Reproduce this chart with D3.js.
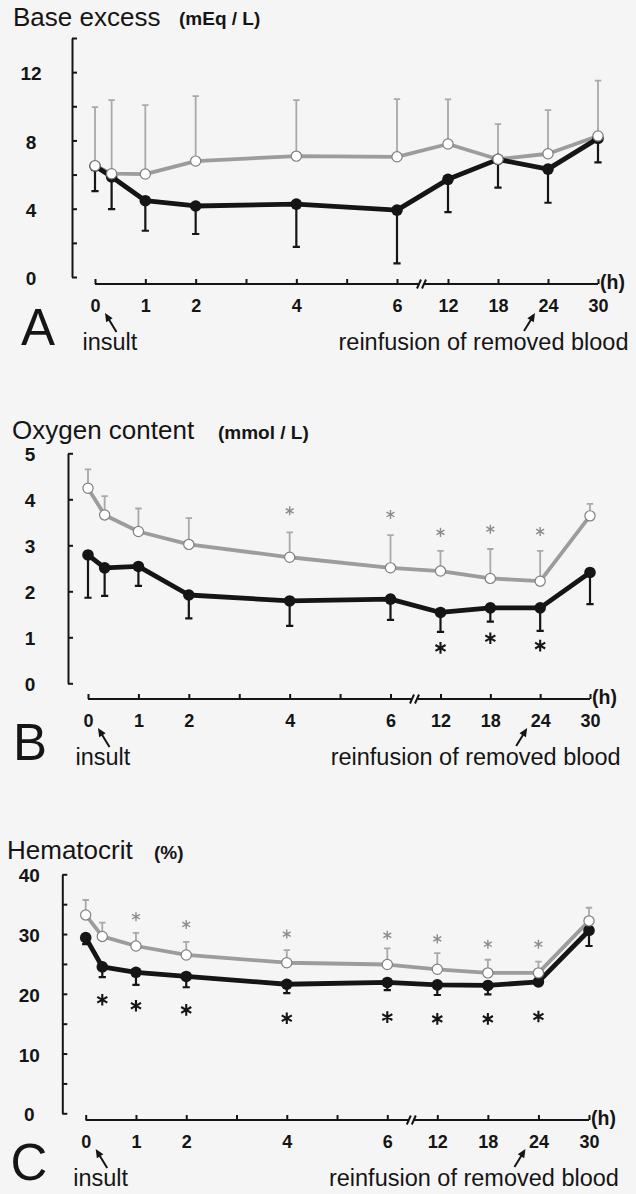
<!DOCTYPE html>
<html><head><meta charset="utf-8">
<script src="https://cdn.jsdelivr.net/npm/d3@7"></script>
<style>body{margin:0;background:#f5f5f5} svg{display:block}</style>
</head><body>
<svg id="chart" width="636" height="1194"></svg>
<script>
// ---------- shared data ----------
const times = [0, 0.33, 1, 2, 4, 6, 12, 18, 24, 30];
const xTickValues = [0, 1, 2, 3, 4, 5, 6, 12, 18, 24, 30];
const xTickLabels = ["0", "1", "2", "", "4", "", "6", "12", "18", "24", "30"];

// ---------- A: Base excess ----------
const beYTicks = [0, 2, 4, 6, 8, 10, 12, 14];
const beYLabels = ["0", "", "4", "", "8", "", "12", ""];
const beGray = [6.52, 6.05, 6.03, 6.79, 7.08, 7.04, 7.79, 6.90, 7.22, 8.26];
const beGraySD = [3.43, 4.31, 4.04, 3.81, 3.28, 3.38, 2.61, 2.06, 2.56, 3.24];
const beBlack = [6.50, 5.87, 4.47, 4.16, 4.27, 3.92, 5.72, 6.89, 6.32, 8.12];
const beBlackSD = [1.47, 1.89, 1.76, 1.64, 2.50, 3.12, 1.92, 1.66, 1.97, 1.41];
const beGrayStar = [null, null, null, null, null, null, null, null, null, null];
const beBlackStar = [null, null, null, null, null, null, null, null, null, null];

// ---------- B: Oxygen content ----------
const o2YTicks = [0, 1, 2, 3, 4, 5];
const o2YLabels = ["0", "1", "2", "3", "4", "5"];
const o2Gray = [4.24, 3.66, 3.30, 3.02, 2.74, 2.51, 2.44, 2.28, 2.22, 3.64];
const o2GraySD = [0.41, 0.41, 0.50, 0.57, 0.54, 0.71, 0.44, 0.64, 0.66, 0.26];
const o2Black = [2.79, 2.51, 2.54, 1.92, 1.79, 1.83, 1.54, 1.64, 1.64, 2.41];
const o2BlackSD = [0.93, 0.61, 0.42, 0.51, 0.54, 0.45, 0.42, 0.30, 0.50, 0.69];
const o2GrayStar = [null, null, null, null, 3.75, 3.67, 3.28, 3.35, 3.30, null];
const o2BlackStar = [null, null, null, null, null, null, 0.77, 0.98, 0.82, null];

// ---------- C: Hematocrit ----------
const hctYTicks = [0, 5, 10, 15, 20, 25, 30, 35, 40];
const hctYLabels = ["0", "", "10", "", "20", "", "30", "", "40"];
const hctGray = [33.2, 29.6, 28.0, 26.5, 25.2, 24.9, 24.1, 23.5, 23.5, 32.2];
const hctGraySD = [2.5, 2.3, 2.2, 2.2, 2.1, 2.7, 2.7, 2.2, 1.9, 2.2];
const hctBlack = [29.4, 24.5, 23.6, 22.9, 21.6, 21.9, 21.5, 21.4, 22.0, 30.6];
const hctBlackSD = [1.1, 1.7, 2.1, 1.8, 1.5, 1.3, 1.7, 1.5, 0.3, 2.6];
const hctGrayStar = [null, null, 32.9, 31.6, 30.0, 29.8, 29.2, 28.3, 28.3, null];
const hctBlackStar = [null, 19.0, 18.0, 17.3, 15.9, 16.1, 15.8, 15.8, 16.2, null];

// ---------- drawing ----------
const FONT = "'Liberation Sans', Arial, Helvetica, sans-serif";
const INK = "#151515";
const GRAY_LINE = "#9c9c9c";
const GRAY_ERR = "#a9a9a9";
const GRAY_STAR = "#8c8c8c";

const svg = d3.select("#chart");
svg.append("rect").attr("width", 636).attr("height", 1194).attr("fill", "#f5f5f5");

function arrow(g, x1, y1, x2, y2) {
  const dx = x2 - x1, dy = y2 - y1, len = Math.hypot(dx, dy);
  const ux = dx / len, uy = dy / len, hl = 8.5, hw = 3.8;
  const bx = x2 - ux * hl, by = y2 - uy * hl;
  g.append("line").attr("x1", x1).attr("y1", y1).attr("x2", bx + ux).attr("y2", by + uy)
    .attr("stroke", INK).attr("stroke-width", 2);
  g.append("path")
    .attr("d", `M${x2},${y2}L${bx - uy * hw},${by + ux * hw}L${bx + uy * hw},${by - ux * hw}Z`)
    .attr("fill", INK);
}

function panel(L, D) {
  const g = svg.append("g");
  const x = d3.scaleLinear().domain([0, 6, 12, 30]).range(L.xr);
  const y = d3.scaleLinear().domain([0, D.yMax]).range([L.yBottom, L.yTop]);

  // y axis
  const ya = g.append("g").attr("transform", `translate(${L.yAxisX},0)`)
    .call(d3.axisLeft(y).tickValues(D.yTicks).tickSizeInner(-5).tickSizeOuter(0)
      .tickFormat(v => D.yLabels[D.yTicks.indexOf(v)]));
  ya.attr("font-family", FONT).attr("font-size", 19);
  ya.select(".domain").attr("stroke", INK).attr("stroke-width", 2);
  ya.selectAll(".tick line").attr("stroke", INK).attr("stroke-width", 2);
  ya.selectAll(".tick text").attr("x", -L.yLabelOff).attr("dy", "0.4em")
    .attr("text-anchor", "middle").attr("font-weight", "bold").attr("fill", INK);

  // x axis
  const xa = g.append("g").attr("transform", `translate(0,${L.xAxisY})`)
    .call(d3.axisBottom(x).tickValues(xTickValues).tickSizeInner(-5).tickSizeOuter(0)
      .tickFormat(v => xTickLabels[xTickValues.indexOf(v)]));
  xa.attr("font-family", FONT).attr("font-size", 18);
  xa.select(".domain").remove();
  xa.selectAll(".tick line").attr("stroke", INK).attr("stroke-width", 2);
  xa.selectAll(".tick text").attr("y", 21.5).attr("dy", "0.36em")
    .attr("font-weight", "bold").attr("fill", INK);
  const mid = (x(6) + x(12)) / 2;
  xa.append("path")
    .attr("d", `M${x(0)},0H${mid - 3}M${mid + 1.5},0H${x(30)}M${mid - 5.5},4.5L${mid - 1.5},-4.5M${mid - 0.5},4.5L${mid + 3.5},-4.5`)
    .attr("stroke", INK).attr("stroke-width", 2).attr("fill", "none");
  xa.append("text").attr("x", x(30) + 2).attr("y", 4.5).text("(h)")
    .attr("font-weight", "bold").attr("font-size", 19.5).attr("fill", INK).attr("text-anchor", "start");

  const rows = times.map((t, i) => ({
    t, g: D.gray[i], gs: D.graySD[i], b: D.black[i], bs: D.blackSD[i],
    gStar: D.grayStar[i], bStar: D.blackStar[i]
  }));

  // error bars
  const cap = 3.2;
  g.append("g").selectAll("path").data(rows).join("path")
    .attr("d", d => `M${x(d.t)},${y(d.g)}V${y(d.g + d.gs)}M${x(d.t) - cap},${y(d.g + d.gs)}H${x(d.t) + cap}`)
    .attr("stroke", GRAY_ERR).attr("stroke-width", 1.8).attr("fill", "none");
  g.append("g").selectAll("path").data(rows).join("path")
    .attr("d", d => `M${x(d.t)},${y(d.b)}V${y(d.b - d.bs)}M${x(d.t) - 3.6},${y(d.b - d.bs)}H${x(d.t) + 3.6}`)
    .attr("stroke", INK).attr("stroke-width", 2.2).attr("fill", "none");

  // lines
  g.append("path").datum(rows)
    .attr("d", d3.line().x(d => x(d.t)).y(d => y(d.g)))
    .attr("stroke", GRAY_LINE).attr("stroke-width", 3.8).attr("fill", "none").attr("stroke-linejoin", "round");
  g.append("path").datum(rows)
    .attr("d", d3.line().x(d => x(d.t)).y(d => y(d.b)))
    .attr("stroke", INK).attr("stroke-width", 4.8).attr("fill", "none").attr("stroke-linejoin", "round");

  // markers
  g.append("g").selectAll("circle").data(rows).join("circle")
    .attr("cx", d => x(d.t)).attr("cy", d => y(d.b)).attr("r", 5.8).attr("fill", INK);
  g.append("g").selectAll("circle").data(rows).join("circle")
    .attr("cx", d => x(d.t)).attr("cy", d => y(d.g)).attr("r", 5.1)
    .attr("fill", "#ffffff").attr("stroke", "#808080").attr("stroke-width", 1.2);

  // significance asterisks
  g.append("g").selectAll("path").data(rows.filter(d => d.gStar != null)).join("path")
    .attr("d", d3.symbol(d3.symbolAsterisk, 58))
    .attr("transform", d => `translate(${x(d.t)},${y(d.gStar)})`)
    .attr("stroke", GRAY_STAR).attr("stroke-width", 1.4).attr("fill", "none");
  g.append("g").selectAll("path").data(rows.filter(d => d.bStar != null)).join("path")
    .attr("d", d3.symbol(d3.symbolAsterisk, 95))
    .attr("transform", d => `translate(${x(d.t)},${y(d.bStar)})`)
    .attr("stroke", INK).attr("stroke-width", 2.1).attr("fill", "none");

  // titles
  g.append("text").attr("x", L.titleX).attr("y", L.titleY).text(D.title)
    .attr("font-family", FONT).attr("font-size", 26).attr("fill", INK);
  g.append("text").attr("x", L.unitX).attr("y", L.unitY).text(D.unit)
    .attr("font-family", FONT).attr("font-size", 19).attr("font-weight", "bold").attr("fill", INK);
  g.append("text").attr("x", L.letterX).attr("y", L.letterY).text(D.letter)
    .attr("font-family", FONT).attr("font-size", 51).attr("fill", INK);

  // annotations
  g.append("text").attr("x", x(0) - 12.5).attr("y", L.xAxisY + 66).text("insult")
    .attr("font-family", FONT).attr("font-size", 23.5).attr("fill", INK);
  arrow(g, x(0) + 21.5, L.xAxisY + 48, x(0) + 10, L.xAxisY + 29);
  g.append("text").attr("x", x(24) - 209.5).attr("y", L.xAxisY + 65.5).text("reinfusion of removed blood")
    .attr("font-family", FONT).attr("font-size", 23.5).attr("fill", INK);
  arrow(g, x(24) - 24, L.xAxisY + 47, x(24) - 13, L.xAxisY + 29);
}

panel(
  { yAxisX: 72, yTop: 38, yBottom: 277, xr: [95, 397, 448, 598], xAxisY: 284, yLabelOff: 41,
    titleX: 13, titleY: 25.5, unitX: 179, unitY: 24.5, letterX: 21, letterY: 345 },
  { yMax: 14, yTicks: beYTicks, yLabels: beYLabels, gray: beGray, graySD: beGraySD,
    black: beBlack, blackSD: beBlackSD, grayStar: beGrayStar, blackStar: beBlackStar,
    title: "Base excess", unit: "(mEq / L)", letter: "A" });

panel(
  { yAxisX: 68, yTop: 453.3, yBottom: 683.3, xr: [88, 390.5, 440.5, 590], xAxisY: 699, yLabelOff: 38,
    titleX: 12, titleY: 438.5, unitX: 218, unitY: 439, letterX: 13, letterY: 760 },
  { yMax: 5, yTicks: o2YTicks, yLabels: o2YLabels, gray: o2Gray, graySD: o2GraySD,
    black: o2Black, blackSD: o2BlackSD, grayStar: o2GrayStar, blackStar: o2BlackStar,
    title: "Oxygen content", unit: "(mmol / L)", letter: "B" });

panel(
  { yAxisX: 62.3, yTop: 874.3, yBottom: 1113.3, xr: [85.7, 387.3, 437.3, 589], xAxisY: 1120, yLabelOff: 33,
    titleX: 7, titleY: 859, unitX: 154, unitY: 858.5, letterX: 10.5, letterY: 1180 },
  { yMax: 40, yTicks: hctYTicks, yLabels: hctYLabels, gray: hctGray, graySD: hctGraySD,
    black: hctBlack, blackSD: hctBlackSD, grayStar: hctGrayStar, blackStar: hctBlackStar,
    title: "Hematocrit", unit: "(%)", letter: "C" });
</script>
</body></html>
